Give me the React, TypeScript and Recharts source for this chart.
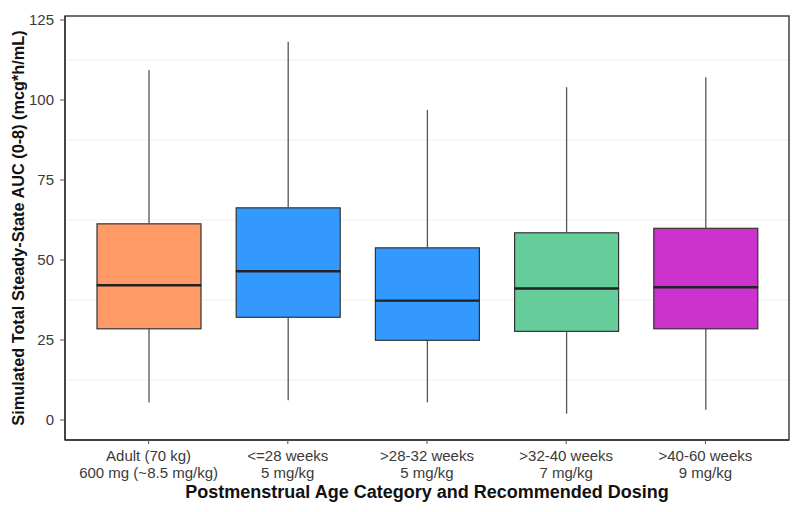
import React from 'react';
import * as R from 'recharts';
import { ComposedChart, Bar, XAxis, YAxis, CartesianGrid } from 'recharts';

const categories = ['Adult (70 kg)', '<=28 weeks', '>28-32 weeks', '>32-40 weeks', '>40-60 weeks'];
const dosing = ['600 mg (~8.5 mg/kg)', '5 mg/kg', '5 mg/kg', '7 mg/kg', '9 mg/kg'];

const whiskerLow = [5.5, 6.2, 5.5, 2.0, 3.2];
const q1 = [28.5, 32.1, 24.9, 27.7, 28.5];
const median = [42.1, 46.5, 37.3, 41.1, 41.5];
const q3 = [61.3, 66.3, 53.8, 58.5, 59.9];
const whiskerHigh = [109.4, 118.2, 96.9, 104.0, 107.1];

const yTicks = [0, 25, 50, 75, 100, 125];
const minorGrid = [12.5, 37.5, 62.5, 87.5, 112.5];

const boxColors = ['#FF9966', '#3399FF', '#3399FF', '#66CC99', '#CC33CC'];

const FONT = '"Liberation Sans", Arial, sans-serif';

// stacked segments: invisible base, lower whisker, lower box, upper box, upper whisker
const data = categories.map((name, i) => ({
  name,
  base: whiskerLow[i],
  lowWhisker: q1[i] - whiskerLow[i],
  lowBox: median[i] - q1[i],
  highBox: q3[i] - median[i],
  highWhisker: whiskerHigh[i] - q3[i],
}));

const Empty = () => <g />;

const Whisker = (props: any) => {
  const { x, y, width, height } = props;
  const cx = x + width / 2;
  return <line x1={cx} x2={cx} y1={y} y2={y + height} stroke="#555" strokeWidth={1.3} />;
};

const LowBox = (props: any) => {
  const { x, y, width, height, index } = props;
  return (
    <rect x={x} y={y} width={width} height={height}
      fill={boxColors[index]} stroke="#333" strokeWidth={1.2} />
  );
};

const HighBox = (props: any) => {
  const { x, y, width, height, index } = props;
  return (
    <g>
      <rect x={x} y={y} width={width} height={height}
        fill={boxColors[index]} stroke="#333" strokeWidth={1.2} />
      <line x1={x} x2={x + width} y1={y + height} y2={y + height} stroke="#222" strokeWidth={2.4} />
    </g>
  );
};

// panel frame around the plot area
const PanelBorder = () => {
  const usePlotArea = (R as any).usePlotArea;
  const area = usePlotArea ? usePlotArea() : null;
  if (!area) return null;
  return (
    <rect x={area.x} y={area.y} width={area.width} height={area.height}
      fill="none" stroke="#333" strokeWidth={1.4} />
  );
};

const XTick = ({ x, y, payload }: any) => {
  const i = categories.indexOf(payload.value);
  return (
    <text x={x} y={y} textAnchor="middle" fontSize={15} fill="#3a3a3a" fontFamily={FONT}>
      <tspan x={x} dy={15}>{payload.value}</tspan>
      <tspan x={x} dy={17}>{dosing[i]}</tspan>
    </text>
  );
};

const XTitle = () => (
  <text x={427} y={498} textAnchor="middle" fontSize={18} fontWeight="bold" fill="#111" fontFamily={FONT}>
    Postmenstrual Age Category and Recommended Dosing
  </text>
);

const YTitle = () => (
  <text x={24} y={228} transform="rotate(-90 24 228)" textAnchor="middle" fontSize={16.3}
    fontWeight="bold" fill="#111" fontFamily={FONT}>
    Simulated Total Steady-State AUC (0-8) (mcg*h/mL)
  </text>
);

export default function App() {
  return (
    <div style={{ position: 'absolute', left: 0, top: 0, background: '#fff' }}>
      <ComposedChart width={800} height={512} data={data}
        margin={{ top: 16, right: 11, bottom: 0, left: 0 }}>
        <CartesianGrid horizontalValues={minorGrid} vertical={false} stroke="#EFEFEF" />
        <XAxis dataKey="name" type="category" height={72} padding={{ left: 14, right: 14 }}
          tick={<XTick />} tickSize={4} interval={0}
          tickLine={{ stroke: '#555' }} axisLine={{ stroke: '#333', strokeWidth: 1.4 }}
          label={<XTitle />} />
        <YAxis type="number" domain={[-6.25, 126.25]} ticks={yTicks} width={65} allowDataOverflow
          tickSize={5} tickMargin={6} tick={{ fontSize: 15, fill: '#3a3a3a', fontFamily: FONT }}
          tickLine={{ stroke: '#555' }} axisLine={{ stroke: '#333', strokeWidth: 1.4 }}
          label={<YTitle />} />
        <Bar dataKey="base" stackId="box" barSize={104} shape={<Empty />} isAnimationActive={false} />
        <Bar dataKey="lowWhisker" stackId="box" barSize={104} shape={<Whisker />} isAnimationActive={false} />
        <Bar dataKey="lowBox" stackId="box" barSize={104} shape={<LowBox />} isAnimationActive={false} />
        <Bar dataKey="highBox" stackId="box" barSize={104} shape={<HighBox />} isAnimationActive={false} />
        <Bar dataKey="highWhisker" stackId="box" barSize={104} shape={<Whisker />} isAnimationActive={false} />
        <PanelBorder />
      </ComposedChart>
    </div>
  );
}
